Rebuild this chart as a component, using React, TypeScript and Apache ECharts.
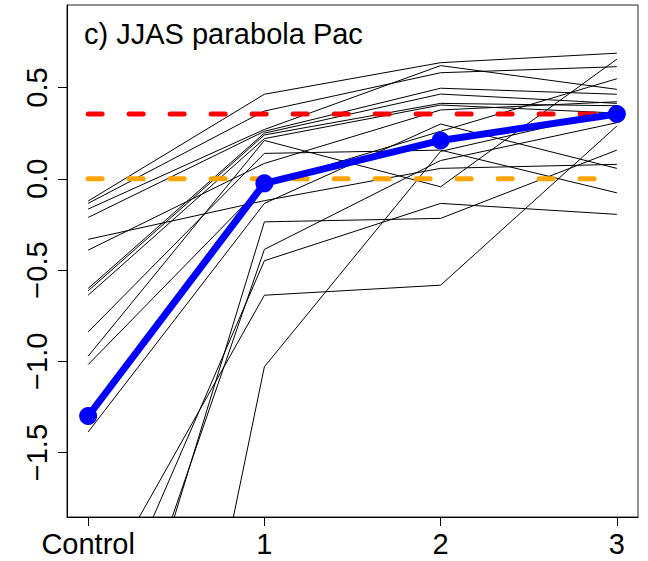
import React, { useEffect, useRef } from "react";
import * as echarts from "echarts";

const categories = ["Control", "1", "2", "3"];
const xPositions = [0, 1, 2, 3];

// Ensemble members: values at Control, 1, 2, 3
const member01 = [-0.122, 0.463, 0.636, 0.688];
const member02 = [-0.135, 0.371, 0.581, 0.614];
const member03 = [-0.166, 0.27, 0.62, 0.49];
const member04 = [-0.212, 0.26, 0.496, 0.463];
const member05 = [-0.332, -0.12, 0.057, 0.079];
const member06 = [-0.391, 0.084, 0.377, 0.422];
const member07 = [-0.601, 0.25, 0.464, 0.413];
const member08 = [-0.614, 0.24, 0.413, 0.4];
const member09 = [-0.638, 0.22, 0.404, 0.36];
const member10 = [-0.839, 0.139, 0.157, -0.077];
const member11 = [-0.972, 0.21, -0.044, 0.655];
const member12 = [-1.018, -0.03, 0.26, 0.548];
const member13 = [-1.387, -0.135, 0.3, 0.057];
const member14 = [-2.35, -0.638, -0.583, 0.289];
const member15 = [-2.675, -0.449, -0.135, -0.195];
const member16 = [-3.19, -0.387, 0.1, 0.307];
const member17 = [-3.4, -0.236, -0.217, 0.157];
const member18 = [-5.71, -1.03, 0.15, 0.37];

const members = [
  member01, member02, member03, member04, member05, member06,
  member07, member08, member09, member10, member11, member12,
  member13, member14, member15, member16, member17, member18,
];

const ensembleMean = [-1.3, -0.025, 0.21, 0.355];
const upperRef = 0.355;
const zeroRef = 0.0;
const yTicks = [-1.5, -1.0, -0.5, 0.0, 0.5];
const titleText = "c) JJAS parabola Pac";

const FONT = "'Liberation Sans', Arial, Helvetica, sans-serif";

const fmtY = (v: number) => {
  const s = Math.abs(v).toFixed(1);
  return v < 0 ? "\u2212" + s : s;
};

export default function App() {
  const ref = useRef<HTMLDivElement>(null);
  useEffect(() => {
    if (!ref.current) return;
    const chart = echarts.init(ref.current, null, { renderer: "svg" });
    const toPts = (arr: number[]) => arr.map((v, i) => [xPositions[i], v]);
    const series: any[] = members.map((m, i) => ({
      name: "member" + (i + 1),
      type: "line",
      data: toPts(m),
      symbol: "none",
      clip: true,
      lineStyle: { color: "#000", width: 1 },
      z: 2,
    }));
    series.push({
      name: "upper",
      type: "line",
      data: [[xPositions[0], upperRef], [xPositions[3], upperRef]],
      symbol: "none",
      lineStyle: { color: "#ff0000", width: 5, type: [14, 27], cap: "round" },
      z: 3,
    });
    series.push({
      name: "zero",
      type: "line",
      data: [[xPositions[0], zeroRef], [xPositions[3], zeroRef]],
      symbol: "none",
      lineStyle: { color: "#ffa500", width: 5, type: [14, 27], cap: "round" },
      z: 3,
    });
    series.push({
      name: "mean",
      type: "line",
      data: toPts(ensembleMean),
      symbol: "circle",
      symbolSize: 18,
      itemStyle: { color: "#0000ff" },
      lineStyle: { color: "#0000ff", width: 7 },
      z: 4,
    });

    chart.setOption({
      animation: false,
      backgroundColor: "#fff",
      title: {
        text: titleText,
        left: 79,
        top: 14,
        textStyle: { fontFamily: FONT, fontSize: 29, fontWeight: "normal", color: "#000" },
      },
      grid: {
        left: 67,
        top: 5,
        right: 10,
        bottom: 44,
        show: true,
        borderColor: "#222",
        borderWidth: 1,
        backgroundColor: "transparent",
      },
      xAxis: {
        type: "value",
        min: -0.12,
        max: 3.12,
        splitLine: { show: false },
        axisLine: { show: true, onZero: false, lineStyle: { color: "#000", width: 1 } },
        axisTick: { show: true, customValues: xPositions, length: 9, lineStyle: { color: "#000" } },
        axisLabel: {
          customValues: xPositions,
          formatter: (v: number) => categories[Math.round(v)] ?? "",
          fontFamily: FONT,
          fontSize: 29,
          color: "#000",
          margin: 12,
        },
      },
      yAxis: {
        type: "value",
        min: -1.853,
        max: 0.952,
        splitLine: { show: false },
        axisLine: { show: true, onZero: false, lineStyle: { color: "#000", width: 1 } },
        axisTick: { show: true, customValues: yTicks, length: 9, lineStyle: { color: "#000" } },
        axisLabel: {
          customValues: yTicks,
          formatter: (v: number) => fmtY(v),
          fontFamily: FONT,
          fontSize: 29,
          color: "#000",
          rotate: 90,
          margin: 16,
        },
      },
      series,
    });
    return () => chart.dispose();
  }, []);
  return (
    <div
      ref={ref}
      style={{ position: "fixed", left: 0, top: 0, width: 648, height: 561, background: "#fff" }}
    />
  );
}
